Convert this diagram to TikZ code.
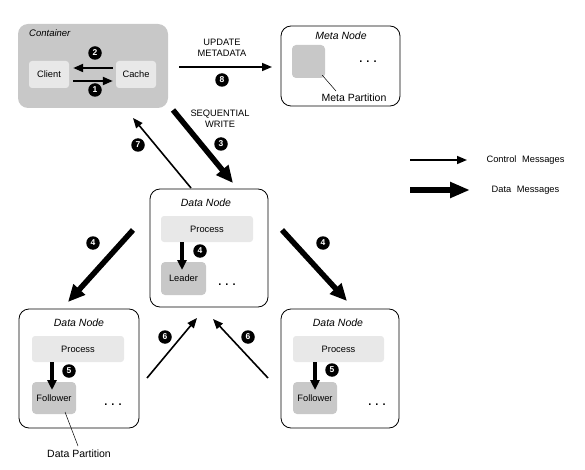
\documentclass[tikz,border=0pt]{standalone}
\usepackage{fontspec}
\setmainfont{Liberation Sans}
\usetikzlibrary{arrows.meta,calc}
\definecolor{contgray}{RGB}{200,200,200}
\definecolor{boxlight}{RGB}{232,232,232}
\definecolor{partgray}{RGB}{200,200,200}
\begin{document}
\begin{tikzpicture}[x=1pt,y=-1pt,
  txt/.style={font=\fontsize{9.3}{10}\selectfont, inner sep=0pt},
  title/.style={font=\fontsize{10.5}{12}\selectfont\itshape, inner sep=0pt},
  lbl/.style={font=\fontsize{10.5}{12}\selectfont, inner sep=0pt},
  outerbox/.style={draw=black, line width=0.8pt, rounded corners=10pt, inner sep=0pt},
  lightbox/.style={fill=boxlight, rounded corners=3pt, inner sep=0pt, font=\fontsize{9.3}{10}\selectfont},
  partbox/.style={fill=partgray, rounded corners=4pt, inner sep=0pt, font=\fontsize{9.3}{10}\selectfont},
  badge/.style={circle, fill=black, text=white, inner sep=0pt, minimum size=13.5pt, font=\fontsize{8.5}{8.5}\selectfont\bfseries},
  dots/.style={font=\fontsize{11}{11}\selectfont\bfseries, inner sep=0pt},
  ctrl/.style={line width=1.6pt, -{Triangle[length=10pt,width=8pt]}},
  datamsg/.style={line width=5.5pt, -{Triangle[length=17pt,width=15pt]}},
  inner/.style={line width=3.5pt, -{Triangle[length=10pt,width=9pt]}},
  leader line/.style={line width=0.5pt}
]
\useasboundingbox (0,0) rectangle (585,470);

% Container
\node[fill=contgray, rounded corners=10pt, minimum width=150pt, minimum height=84pt, inner sep=0pt] (cont) at (93,66) {};
\node[font=\fontsize{9.5}{10}\selectfont\itshape, inner sep=0pt, anchor=west] (contlbl) at (29,33) {Container};
\node[lightbox, minimum width=40pt, minimum height=27pt] (client) at (49,74.5) {Client};
\node[lightbox, minimum width=40pt, minimum height=27pt] (cache) at (136,74.5) {Cache};
\coordinate (c2s) at ($(cache.west)+(-3,-6.5)$);
\coordinate (c2e) at ($(client.east)+(4,-6.5)$);
\coordinate (c1s) at ($(client.east)+(4,6.5)$);
\coordinate (c1e) at ($(cache.west)+(-3,6.5)$);
\draw[ctrl, line width=2pt] (c2s) -- (c2e);
\draw[ctrl, line width=2pt] (c1s) -- (c1e);
\node[badge] (b2) at (95,53) {2};
\node[badge] (b1) at (95,90) {1};

% Meta node
\node[outerbox, minimum width=119pt, minimum height=80pt] (meta) at (340.5,66) {};
\node[title] (metalbl) at (341,36) {Meta Node};
\node[partbox, minimum width=33pt, minimum height=33pt] (metapart) at (308.5,61.5) {};
\node[dots] (metadots) at (368,62) {. . .};
\node[lbl] (metapartlbl) at (354,98) {Meta Partition};
\coordinate (mpl) at (336,91);
\draw[leader line] (metapart.south east) ++(-3,-3) -- (mpl);

% Update metadata arrow
\node[txt, align=center] (updlbl) at (222,48) {UPDATE\\[1.5pt]METADATA};
\coordinate (a8s) at (179,67);
\coordinate (a8e) at (272,67);
\draw[ctrl] (a8s) -- (a8e);
\node[badge] (b8) at (222,80) {8};

% Center data node
\node[outerbox, minimum width=118pt, minimum height=118pt] (dnc) at (209,248) {};
\node[title] (dnclbl) at (206,203) {Data Node};
\node[lightbox, minimum width=92pt, minimum height=26pt] (procc) at (207,229) {Process};
\node[partbox, minimum width=45pt, minimum height=33pt] (leader) at (183.5,278.5) {Leader};
\node[dots] (dncdots) at (227,285) {. . .};
\draw[inner] (procc.south -| 182,0) -- (182,270);
\node[badge] (b4c) at (200,251) {4};

% Left data node
\node[outerbox, minimum width=120pt, minimum height=119pt] (dnl) at (79,368.5) {};
\node[title] (dnllbl) at (79,323) {Data Node};
\node[lightbox, minimum width=92pt, minimum height=26pt] (procl) at (78,349) {Process};
\node[partbox, minimum width=44pt, minimum height=32pt] (foll) at (54,398) {Follower};
\node[dots] (dnldots) at (113,405) {. . .};
\draw[inner] (procl.south -| 52,0) -- (52,390);
\node[badge] (b5l) at (69,371) {5};
\node[lbl] (dplbl) at (79,454) {Data Partition};
\coordinate (dps) at (65,412);
\coordinate (dpe) at (78,446);
\draw[leader line] (dps) -- (dpe);

% Right data node
\node[outerbox, minimum width=118pt, minimum height=119pt] (dnr) at (340,368.5) {};
\node[title] (dnrlbl) at (338,323) {Data Node};
\node[lightbox, minimum width=91pt, minimum height=26pt] (procr) at (338.5,349) {Process};
\node[partbox, minimum width=44pt, minimum height=32pt] (folr) at (315,398) {Follower};
\node[dots] (dnrdots) at (377,405) {. . .};
\draw[inner] (procr.south -| 315,0) -- (315,390);
\node[badge] (b5r) at (332,370) {5};

% Sequential write (3)
\node[txt, align=center] (seqlbl) at (220,119) {SEQUENTIAL\\[1.5pt]WRITE};
\coordinate (a3s) at (173,110);
\coordinate (a3e) at (233,183);
\draw[datamsg] (a3s) -- (a3e);
\node[badge] (b3) at (221,144) {3};

% Arrow 7
\coordinate (a7s) at (191,188);
\coordinate (a7e) at (133,118);
\draw[ctrl] (a7s) -- (a7e);
\node[badge] (b7) at (138,145) {7};

% Arrows 4
\coordinate (a4ls) at (133,230);
\coordinate (a4le) at (68,302);
\draw[datamsg] (a4ls) -- (a4le);
\node[badge] (b4l) at (93,243) {4};
\coordinate (a4rs) at (282,230);
\coordinate (a4re) at (347,301);
\draw[datamsg] (a4rs) -- (a4re);
\node[badge] (b4r) at (323,243) {4};

% Arrows 6
\coordinate (a6ls) at (147,378);
\coordinate (a6le) at (197,318);
\draw[ctrl] (a6ls) -- (a6le);
\node[badge] (b6l) at (165,337) {6};
\coordinate (a6rs) at (268,378);
\coordinate (a6re) at (213,319);
\draw[ctrl] (a6rs) -- (a6re);
\node[badge] (b6r) at (248,337) {6};

% Legend
\coordinate (lcs) at (410,160);
\coordinate (lce) at (467,160);
\draw[ctrl] (lcs) -- (lce);
\node[txt] (lctxt) at (525.5,160.5) {Control\hspace{3pt} Messages};
\coordinate (lds) at (410,190);
\coordinate (lde) at (470,190);
\draw[datamsg, -{Triangle[length=20pt,width=15pt]}] (lds) -- (lde);
\node[txt] (ldtxt) at (525.5,190.5) {Data\hspace{3pt} Messages};
\end{tikzpicture}
\end{document}
